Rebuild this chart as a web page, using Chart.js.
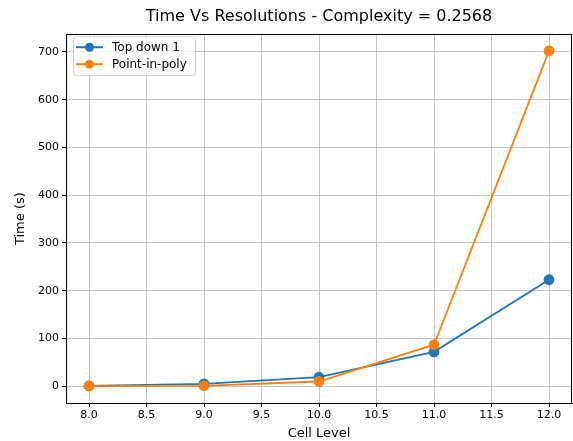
<!DOCTYPE html>
<html>
<head>
<meta charset="utf-8">
<script src="https://cdn.jsdelivr.net/npm/chart.js@4.4.0/dist/chart.umd.min.js"></script>
<style>
  html, body { margin: 0; padding: 0; background: #fff; }
  #wrap { width: 573px; height: 441px; }
</style>
</head>
<body>
<div id="wrap"><canvas id="chart"></canvas></div>
<script>
// Data
const cellLevels = [8, 9, 10, 11, 12];
const topDown1 = [1, 5, 19, 72, 223];
const pointInPoly = [0.5, 1, 10, 87, 702];
const xTicks = [8.0, 8.5, 9.0, 9.5, 10.0, 10.5, 11.0, 11.5, 12.0];
const yTicks = [0, 100, 200, 300, 400, 500, 600, 700];

const blue = '#1f77b4';
const orange = '#ff7f0e';
const font = 'DejaVu Sans';

// frame round the plot + legend inside, matplotlib style
const framePlugin = {
    id: 'frame',
    afterDraw(chart) {
        const c = chart.ctx, a = chart.chartArea;
        c.save();
        c.strokeStyle = '#000';
        c.lineWidth = 1;
        c.strokeRect(Math.round(a.left) + 0.5, Math.round(a.top) + 0.5,
            Math.round(a.right - a.left) - 1, Math.round(a.bottom - a.top));

        // Legend
        const x = a.left + 7, y = a.top + 2;
        c.fillStyle = 'rgba(255,255,255,0.8)';
        c.strokeStyle = '#d0d0d0';
        c.beginPath();
        c.roundRect(x + 0.5, y + 0.5, 122, 39, 3);
        c.fill();
        c.stroke();
        c.font = '12px ' + font;
        c.textBaseline = 'middle';
        const items = [['Top down 1', blue], ['Point-in-poly', orange]];
        items.forEach(function(it, i) {
            const ly = y + 11 + i * 17;
            c.strokeStyle = it[1];
            c.lineWidth = 2;
            c.beginPath();
            c.moveTo(x + 3, ly);
            c.lineTo(x + 30, ly);
            c.stroke();
            c.fillStyle = it[1];
            c.beginPath();
            c.arc(x + 16.5, ly, 4.5, 0, Math.PI * 2);
            c.fill();
            c.fillStyle = '#000';
            c.fillText(it[0], x + 39, ly + 1);
        });
        c.restore();
    }
};

const ctx = document.getElementById('chart').getContext('2d');
const myChart = new Chart(ctx, {
    type: 'line',
    data: {
        datasets: [
            {
                label: 'Top down 1',
                data: cellLevels.map(function(x, i) { return {x: x, y: topDown1[i]}; }),
                borderColor: blue,
                backgroundColor: blue,
                borderWidth: 1.8,
                pointRadius: 4.5,
                pointHoverRadius: 4.5,
                order: 1
            },
            {
                label: 'Point-in-poly',
                data: cellLevels.map(function(x, i) { return {x: x, y: pointInPoly[i]}; }),
                borderColor: orange,
                backgroundColor: orange,
                borderWidth: 1.8,
                pointRadius: 4.5,
                pointHoverRadius: 4.5,
                order: 0
            }
        ]
    },
    options: {
        responsive: true,
        maintainAspectRatio: false,
        animation: false,
        layout: { autoPadding: false, padding: { left: 0, right: 1, top: 0, bottom: 0 } },
        plugins: {
            legend: { display: false },
            tooltip: { enabled: false },
            title: {
                display: true,
                fullSize: false,
                text: 'Time Vs Resolutions - Complexity = 0.2568',
                color: '#000',
                font: { family: font, size: 16, weight: 'normal' },
                padding: { top: 7, bottom: 8 }
            }
        },
        scales: {
            x: {
                type: 'linear',
                min: 7.8,
                max: 12.2,
                afterBuildTicks: function(scale) {
                    scale.ticks = xTicks.map(function(v) { return {value: v}; });
                },
                afterFit: function(scale) { scale.height = 38; },
                grid: { color: '#c8c8c8', tickColor: '#000', tickLength: 4, lineWidth: 1 },
                border: { color: '#000' },
                ticks: {
                    color: '#000',
                    font: { family: font, size: 11 },
                    padding: 2,
                    maxRotation: 0,
                    autoSkip: false,
                    callback: function(value) { return value.toFixed(1); }
                },
                title: {
                    display: true,
                    text: 'Cell Level',
                    color: '#000',
                    font: { family: font, size: 13 },
                    padding: { top: 1, bottom: 0 }
                }
            },
            y: {
                min: -35,
                max: 737,
                afterBuildTicks: function(scale) {
                    scale.ticks = yTicks.map(function(v) { return {value: v}; });
                },
                afterFit: function(scale) { scale.width = 66; },
                grid: { color: '#c8c8c8', tickColor: '#000', tickLength: 4, lineWidth: 1 },
                border: { color: '#000' },
                ticks: {
                    color: '#000',
                    font: { family: font, size: 11 },
                    padding: 3,
                    autoSkip: false
                },
                title: {
                    display: true,
                    text: 'Time (s)',
                    color: '#000',
                    font: { family: font, size: 13 },
                    padding: { top: 13, bottom: 0 }
                }
            }
        }
    },
    plugins: [framePlugin]
});
</script>
</body>
</html>
